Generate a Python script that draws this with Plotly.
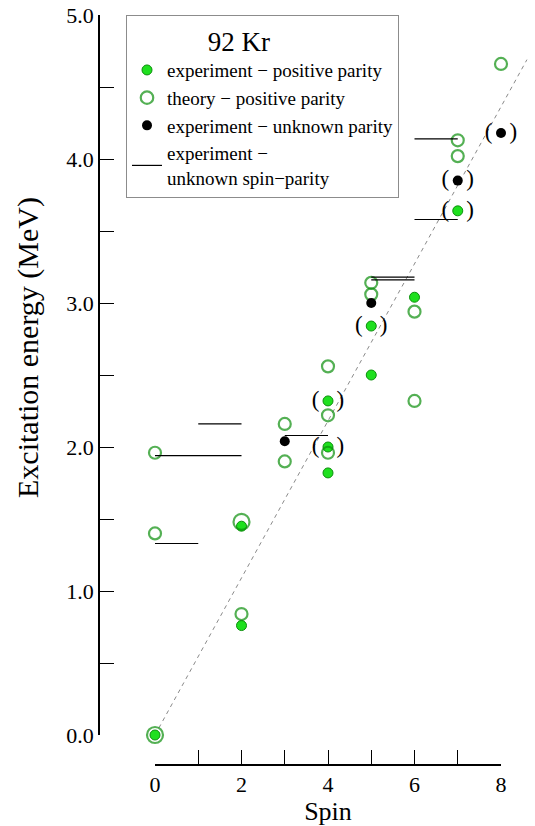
import plotly.graph_objects as go

# ---------------- data ----------------
exp_pos_spin = [0, 2, 2, 4, 4, 4, 5, 5, 6, 7]
exp_pos_energy = [0.00, 1.45, 0.76, 1.82, 2.00, 2.32, 2.50, 2.84, 3.04, 3.64]

theory_spin = [0, 0, 0, 2, 2, 3, 3, 4, 4, 4, 5, 5, 6, 6, 7, 7, 8]
theory_energy = [0.00, 1.40, 1.96, 1.48, 0.84, 1.90, 2.16, 1.96, 2.22, 2.56,
                 3.06, 3.14, 2.94, 2.32, 4.02, 4.13, 4.66]

exp_unk_spin = [3, 5, 7, 8]
exp_unk_energy = [2.04, 3.00, 3.85, 4.18]

unk_sp_lo = [0, 0, 1, 3, 5, 5, 6, 6]
unk_sp_hi = [1, 2, 2, 4, 6, 6, 7, 7]
unk_sp_energy = [1.33, 1.94, 2.16, 2.08, 3.18, 3.16, 3.58, 4.14]

paren_spin = [4, 4, 5, 7, 7, 8]
paren_energy = [2.00, 2.32, 2.84, 3.64, 3.85, 4.18]

guide_spin = [0.0, 8.6]
guide_energy = [0.0, 4.69]

x_ticks = [0, 1, 2, 3, 4, 5, 6, 7, 8]
x_ticklabels = ["0", "", "2", "", "4", "", "6", "", "8"]
y_ticks = [0.0, 0.5, 1.0, 1.5, 2.0, 2.5, 3.0, 3.5, 4.0, 4.5, 5.0]
y_ticklabels = ["0.0", "", "1.0", "", "2.0", "", "3.0", "", "4.0", "", "5.0"]

# ---------------- geometry (pixels) ----------------
W, H = 535, 826
x0_px, x8_px = 155.0, 501.0
y0_px, y5_px = 735.0, 15.0
px_per_spin = (x8_px - x0_px) / 8.0
px_per_mev = (y0_px - y5_px) / 5.0
xr = [-x0_px / px_per_spin, (W - x0_px) / px_per_spin]
yr = [-(H - y0_px) / px_per_mev, y0_px / px_per_mev]

FONT = "Liberation Serif"
GREEN_FILL = "#1fe01f"
GREEN_EDGE = "#0c8f0c"
GREEN_RING = "#0b8f0b"

big_ring = {(0, 0.0), (2, 1.48)}

fig = go.Figure()

# guide line
fig.add_trace(go.Scatter(x=guide_spin, y=guide_energy, mode="lines",
                         line=dict(color="#8a8a8a", width=1, dash="4px,4px"),
                         showlegend=False, hoverinfo="skip"))

# unknown spin-parity lines
lx, ly = [], []
for lo, hi, e in zip(unk_sp_lo, unk_sp_hi, unk_sp_energy):
    lx += [lo, hi, None]
    ly += [e, e, None]

fig.add_trace(go.Scatter(x=exp_pos_spin, y=exp_pos_energy, mode="markers",
                         name="experiment \u2212 positive parity",
                         marker=dict(size=10, color=GREEN_FILL,
                                     line=dict(color=GREEN_EDGE, width=1)),
                         cliponaxis=False))
fig.add_trace(go.Scatter(x=theory_spin, y=theory_energy, mode="markers",
                         name="theory \u2212 positive parity",
                         marker=dict(size=[16 if (s, e) in big_ring else 12
                                           for s, e in zip(theory_spin, theory_energy)],
                                     color=GREEN_RING, symbol="circle-open",
                                     line=dict(color=GREEN_RING, width=2.2)),
                         cliponaxis=False))
fig.add_trace(go.Scatter(x=exp_unk_spin, y=exp_unk_energy, mode="markers",
                         name="experiment \u2212 unknown parity",
                         marker=dict(size=10, color="black"),
                         cliponaxis=False))
fig.add_trace(go.Scatter(x=lx, y=ly, mode="lines",
                         name="experiment \u2212<br>unknown spin\u2212parity",
                         line=dict(color="black", width=1.2)))
fig.add_trace(go.Scatter(x=paren_spin, y=paren_energy, mode="text",
                         text=["(   )"] * len(paren_spin),
                         textposition="middle center",
                         textfont=dict(family=FONT, size=23, color="black"),
                         showlegend=False, cliponaxis=False, hoverinfo="skip"))

# dummy trace for display axes
fig.add_trace(go.Scatter(x=[None], y=[None], xaxis="x2", yaxis="y2",
                         showlegend=False, hoverinfo="skip"))

fig.update_layout(
    width=W, height=H, autosize=False,
    margin=dict(l=0, r=0, t=0, b=0, pad=0),
    template="none",
    paper_bgcolor="white", plot_bgcolor="rgba(0,0,0,0)",
    xaxis=dict(range=xr, domain=[0, 1], visible=False, automargin=False, fixedrange=True),
    yaxis=dict(range=yr, domain=[0, 1], visible=False, automargin=False, fixedrange=True),
    xaxis2=dict(range=[0, 8], domain=[x0_px / W, x8_px / W], anchor="free",
                position=1 - 765.0 / H, showline=True, linecolor="black", linewidth=1.5,
                ticks="inside", ticklen=14, tickwidth=1.2, tickcolor="black",
                tickvals=x_ticks, ticktext=x_ticklabels, showgrid=False, zeroline=False,
                tickfont=dict(family=FONT, size=22, color="black"),
                title=dict(text="Spin", font=dict(family=FONT, size=26, color="black"),
                           standoff=2),
                automargin=False, fixedrange=True),
    yaxis2=dict(range=[0, 5], domain=[1 - y0_px / H, 1 - y5_px / H], anchor="free",
                position=99.0 / W, showline=True, linecolor="black", linewidth=1.5,
                ticks="inside", ticklen=14, tickwidth=1.2, tickcolor="black",
                tickvals=y_ticks, ticktext=y_ticklabels, showgrid=False, zeroline=False,
                tickfont=dict(family=FONT, size=22, color="black"),
                automargin=False, fixedrange=True),
    annotations=[dict(text="Excitation energy (MeV)", textangle=-90,
                      x=28.0 / W, y=1 - 348.0 / H, xref="paper", yref="paper",
                      xanchor="center", yanchor="middle", showarrow=False,
                      font=dict(family=FONT, size=30, color="black"))],
    legend=dict(x=126.0 / W, y=1 - 15.0 / H, xanchor="left", yanchor="top",
                bgcolor="white", bordercolor="#8c8c8c", borderwidth=1,
                font=dict(family=FONT, size=19, color="black"),
                title=dict(text="92 Kr" + "\u00a0" * 7, side="top center",
                           font=dict(family=FONT, size=27, color="black")),
                tracegroupgap=0, itemwidth=30),
    showlegend=True,
)

fig.write_html("out.html")
